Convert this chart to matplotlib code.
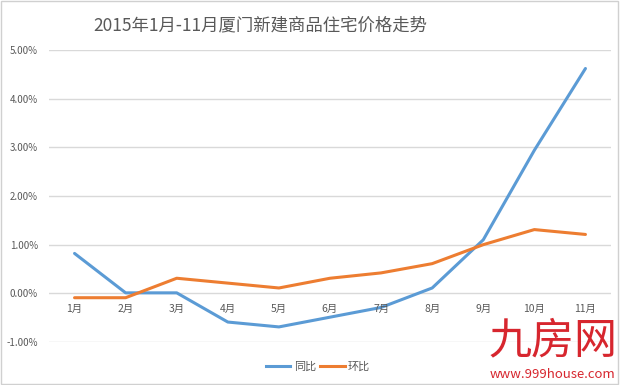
import numpy as np
import matplotlib.pyplot as plt
import matplotlib.patches as mpatches
from matplotlib.lines import Line2D

plt.rcParams['font.family'] = ['Noto Sans CJK SC', 'DejaVu Sans']

# ── Data ──────────────────────────────────────────────────────────────────────
months = ['1月', '2月', '3月', '4月', '5月', '6月', '7月', '8月', '9月', '10月', '11月']
yoy = [0.82, 0.01, 0.01, -0.59, -0.69, -0.49, -0.29, 0.11, 1.10, 2.94, 4.62]   # 同比 (%)
mom = [-0.09, -0.09, 0.31, 0.21, 0.11, 0.31, 0.42, 0.61, 1.00, 1.31, 1.21]     # 环比 (%)
yticks = [-1, 0, 1, 2, 3, 4, 5]

BLUE   = '#5B9BD5'
ORANGE = '#ED7D31'
GRAY   = '#595959'

# ── Figure ────────────────────────────────────────────────────────────────────
fig = plt.figure(figsize=(6.25, 3.85), dpi=100)
ax = fig.add_axes([49 / 625, 1 - 342 / 385, (611 - 49) / 625, (342 - 50) / 385])

x = np.arange(len(months))
ax.plot(x, yoy, color=BLUE, lw=2.2, solid_capstyle='round', zorder=3)
ax.plot(x, mom, color=ORANGE, lw=2.2, solid_capstyle='round', zorder=3)

ax.set_xlim(-0.5, len(months) - 0.5)
ax.set_ylim(-1, 5)
ax.set_yticks(yticks)
ax.set_yticklabels([f'{v:.2f}%' for v in yticks], fontsize=7, color=GRAY)
ax.tick_params(axis='y', length=0, pad=8)
ax.set_xticks([])
ax.grid(axis='y', color='#D9D9D9', lw=1)
ax.set_axisbelow(True)
for s in ax.spines.values():
    s.set_visible(False)

# category labels sit at the zero line, Excel style
for i, m in enumerate(months):
    ax.annotate(m, (i, 0), xytext=(0, -11), textcoords='offset points',
                ha='center', va='center', fontsize=7.5, color=GRAY)

fig.text(260 / 625, 1 - 25 / 385, '2015年1月-11月厦门新建商品住宅价格走势',
         ha='center', va='center', fontsize=12.5, color=GRAY)

# legend
handles = [Line2D([], [], color=BLUE, lw=2.2), Line2D([], [], color=ORANGE, lw=2.2)]
fig.legend(handles, ['同比', '环比'], loc='center', bbox_to_anchor=(318 / 625, 1 - 367 / 385),
           ncol=2, frameon=False, fontsize=8, handlelength=2.2, handletextpad=0.3,
           columnspacing=0.4, labelcolor=GRAY)

# watermark
fig.text(553 / 625, 1 - 341 / 385, '九房网', ha='center', va='center',
         fontsize=31, color='#D7262E')
fig.text(553 / 625, 1 - 374 / 385, 'www.999house.com', ha='center', va='center',
         fontsize=9.5, color='#D7262E')

# light frame around the picture
fig.patches.append(mpatches.Rectangle((0.001, 0.002), 0.987, 0.995, transform=fig.transFigure,
                                      fill=False, edgecolor='#D0D0D0', lw=1))

fig.savefig('out.png', dpi=100)
